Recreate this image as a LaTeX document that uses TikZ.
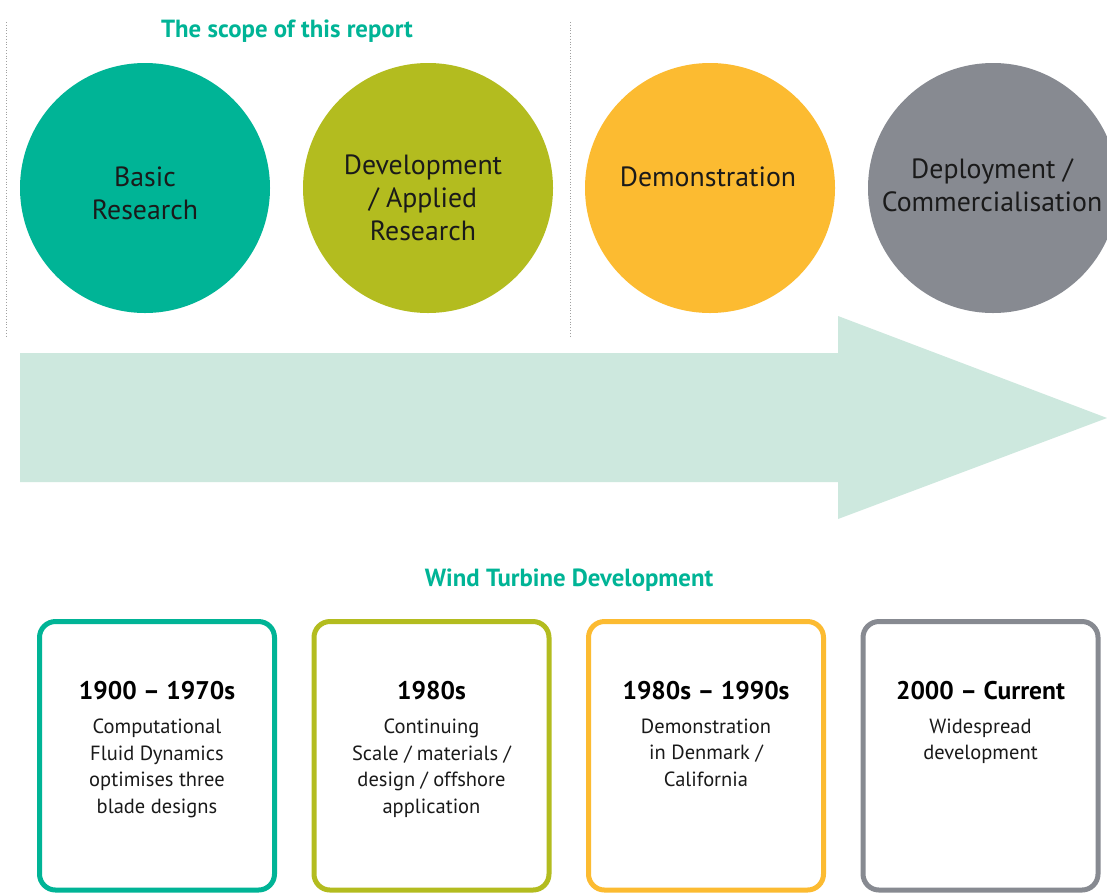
\documentclass[tikz,border=0pt]{standalone}
\usepackage{fontspec}
\setmainfont{PT Sans}
\definecolor{cteal}{HTML}{00B496}
\definecolor{colive}{HTML}{B3BC1F}
\definecolor{corange}{HTML}{FCBB31}
\definecolor{cgrey}{HTML}{878A91}
\definecolor{carrow}{HTML}{CDE8DE}
\definecolor{cdot}{HTML}{A0A0A0}
\definecolor{ctext}{HTML}{1A1A1A}
\begin{document}
\begin{tikzpicture}[x=1pt,y=-1pt,
  circ/.style={circle, minimum size=250pt, inner sep=0pt, draw=none},
  ctxt/.style={align=center, font=\fontsize{27.8}{33}\selectfont, inner sep=0pt, text=ctext},
  yrbox/.style={draw, line width=5pt, rounded corners=16pt, minimum width=235pt, minimum height=268.5pt, inner sep=0pt},
  yr/.style={font=\fontsize{25.5}{30}\selectfont\bfseries, anchor=base, inner sep=0pt, text=black},
  desc/.style={font=\fontsize{20.5}{26.7}\selectfont, align=center, anchor=north, inner sep=0pt, text=ctext},
  heading/.style={font=\fontsize{24.8}{28}\selectfont\bfseries, text=cteal, inner sep=0pt},
  sep/.style={draw=cdot, line width=0.8pt, dotted}
]
\clip (0,0) rectangle (1107,892);
\fill[white] (0,0) rectangle (1107,892);

% separators
\coordinate (s1a) at (6,22); \coordinate (s1b) at (6,338);
\coordinate (s2a) at (570,22); \coordinate (s2b) at (570,338);
\draw[sep] (s1a) -- (s1b);
\draw[sep] (s2a) -- (s2b);

\node[heading] (scope) at (287,31) {The scope of this report};

% circles
\node[circ, fill=cteal] (c1) at (145,188) {};
\node[circ, fill=colive] (c2) at (428,188) {};
\node[circ, fill=corange] (c3) at (710,188) {};
\node[circ, fill=cgrey] (c4) at (993,188) {};

\node[ctxt] (t1) at (145,193) {Basic\\Research};
\node[ctxt] (t2) at (423,198) {Development\\/ Applied\\Research};
\node[ctxt] (t3) at (708,177) {Demonstration};
\node[ctxt] (t4) at (992,185) {Deployment /\\Commercialisation};

% big arrow
\fill[carrow] (20,353) -- (838,353) -- (838,316) -- (1107,418) -- (838,519) -- (838,482) -- (20,482) -- cycle;

\node[heading] (wtd) at (569,580.5) {Wind Turbine Development};

% boxes
\node[yrbox, draw=cteal] (b1) at (157,755.75) {};
\node[yrbox, draw=colive] (b2) at (431.5,755.75) {};
\node[yrbox, draw=corange] (b3) at (706,755.75) {};
\node[yrbox, draw=cgrey] (b4) at (980.5,755.75) {};

\node[yr] (y1) at (157,699) {1900 – 1970s};
\node[yr] (y2) at (431.5,699) {1980s};
\node[yr] (y3) at (706,699) {1980s – 1990s};
\node[yr] (y4) at (980.5,699) {2000 – Current};

\node[desc] (d1) at (157,718.5) {Computational\\Fluid Dynamics\\optimises three\\blade designs};
\node[desc] (d2) at (431.5,718.5) {Continuing\\Scale / materials /\\design / offshore\\application};
\node[desc] (d3) at (706,718.5) {Demonstration\\in Denmark /\\California};
\node[desc] (d4) at (980.5,718.5) {Widespread\\development};
\end{tikzpicture}
\end{document}
